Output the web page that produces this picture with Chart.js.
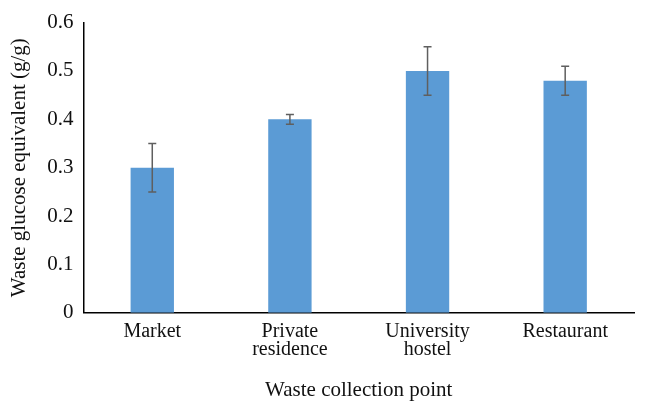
<!DOCTYPE html>
<html lang="en">
<head>
    <meta charset="UTF-8">
    <title>Waste glucose equivalent</title>
    <script src="https://cdn.jsdelivr.net/npm/chart.js"></script>
    <style>
        body { margin: 0; background: #fff; }
    </style>
</head>
<body>
    <canvas id="wasteChart" width="647" height="414"></canvas>

    <script>
        // collection points and measured values
        const pontos = [['Market'], ['Private', 'residence'], ['University', 'hostel'], ['Restaurant']];
        const glicose = [0.30, 0.40, 0.50, 0.48];
        const erroMin = [0.25, 0.39, 0.45, 0.45];
        const erroMax = [0.35, 0.41, 0.55, 0.51];
        const ticksY = [0, 0.1, 0.2, 0.3, 0.4, 0.5, 0.6];

        const fonte = "'Liberation Serif', 'DejaVu Serif', serif";

        // draws error bars using the library's scales
        const barrasErro = {
            id: 'barrasErro',
            afterDatasetsDraw(chart) {
                const ctx = chart.ctx;
                const y = chart.scales.y;
                const meta = chart.getDatasetMeta(0);
                ctx.save();
                ctx.strokeStyle = '#5f5f5f';
                ctx.lineWidth = 1.5;
                meta.data.forEach((bar, i) => {
                    const x = bar.x;
                    const yTop = y.getPixelForValue(erroMax[i]);
                    const yBot = y.getPixelForValue(erroMin[i]);
                    ctx.beginPath();
                    ctx.moveTo(x, yTop);
                    ctx.lineTo(x, yBot);
                    ctx.moveTo(x - 4, yTop);
                    ctx.lineTo(x + 4, yTop);
                    ctx.moveTo(x - 4, yBot);
                    ctx.lineTo(x + 4, yBot);
                    ctx.stroke();
                });
                ctx.restore();
            }
        };

        const ctxWaste = document.getElementById('wasteChart').getContext('2d');
        new Chart(ctxWaste, {
            type: 'bar',
            data: {
                labels: pontos,
                datasets: [{
                    data: glicose,
                    backgroundColor: '#5b9bd5',
                    borderWidth: 0,
                    categoryPercentage: 1,
                    barPercentage: 0.315
                }]
            },
            options: {
                responsive: false,
                animation: false,
                layout: { padding: { top: 19, right: 13, left: 3, bottom: 7 } },
                plugins: {
                    legend: { display: false },
                    tooltip: { enabled: false }
                },
                scales: {
                    x: {
                        grid: { display: false, drawTicks: false },
                        border: { color: '#000', width: 1.5 },
                        ticks: {
                            color: '#111',
                            font: { family: fonte, size: 20, lineHeight: 0.9 },
                            padding: 10,
                            maxRotation: 0
                        },
                        title: {
                            display: true,
                            text: 'Waste collection point',
                            color: '#111',
                            font: { family: fonte, size: 21 },
                            padding: { top: 9 }
                        }
                    },
                    y: {
                        min: 0,
                        max: 0.6,
                        afterBuildTicks(axis) {
                            axis.ticks = ticksY.map(v => ({ value: v }));
                        },
                        grid: { display: false, drawTicks: false },
                        border: { color: '#000', width: 1.5 },
                        ticks: {
                            color: '#111',
                            font: { family: fonte, size: 21 },
                            padding: 10,
                            callback: v => String(Math.round(v * 10) / 10)
                        },
                        title: {
                            display: true,
                            text: 'Waste glucose equivalent (g/g)',
                            color: '#111',
                            font: { family: fonte, size: 21 },
                            padding: { bottom: 5 }
                        }
                    }
                }
            },
            plugins: [barrasErro]
        });
    </script>
</body>
</html>
